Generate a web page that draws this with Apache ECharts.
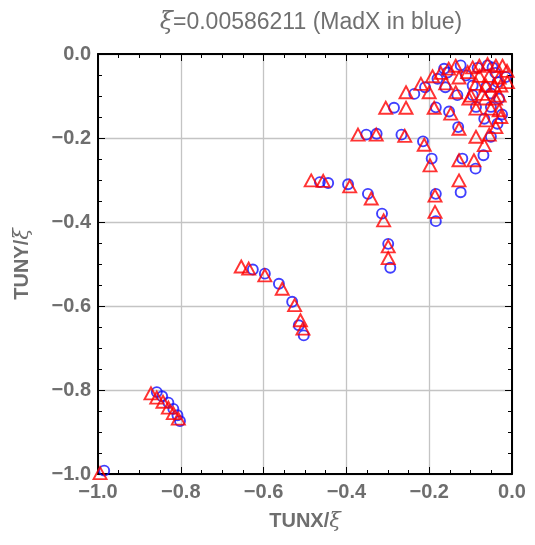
<!DOCTYPE html>
<html>
<head>
<meta charset="utf-8">
<script src="https://cdn.jsdelivr.net/npm/echarts@6/dist/echarts.min.js"></script>
<style>
html, body { margin: 0; padding: 0; background: #fff; }
#chart { width: 535px; height: 545px; }
</style>
</head>
<body>
<div id="chart"></div>
<script>
// tick values, same on both axes
var axisTicks = [-1.0, -0.8, -0.6, -0.4, -0.2, 0.0];
var minorStep = 0.05;

// MadX (blue circles)
var madxArms = [
	[-0.985, -0.992],
	[-0.858, -0.805], [-0.845, -0.815], [-0.830, -0.830], [-0.818, -0.845], [-0.808, -0.860], [-0.802, -0.874],
	[-0.626, -0.513], [-0.597, -0.523], [-0.563, -0.547], [-0.531, -0.590], [-0.515, -0.646], [-0.503, -0.670],
	[-0.464, -0.305], [-0.444, -0.307], [-0.396, -0.310], [-0.348, -0.333], [-0.314, -0.380], [-0.299, -0.452], [-0.294, -0.509],
	[-0.352, -0.192], [-0.327, -0.190], [-0.267, -0.192], [-0.215, -0.208], [-0.194, -0.249], [-0.184, -0.333], [-0.184, -0.398]
];
var madxCluster = [
	[-0.285, -0.128], [-0.236, -0.095], [-0.210, -0.079], [-0.180, -0.059], [-0.184, -0.127],
	[-0.161, -0.079], [-0.164, -0.035], [-0.156, -0.044], [-0.124, -0.027], [-0.111, -0.051],
	[-0.095, -0.075], [-0.095, -0.098], [-0.083, -0.033], [-0.059, -0.027], [-0.047, -0.032],
	[-0.040, -0.045], [-0.063, -0.079], [-0.051, -0.094], [-0.035, -0.067], [-0.015, -0.055],
	[-0.152, -0.137], [-0.130, -0.174], [-0.087, -0.126], [-0.051, -0.126], [-0.067, -0.154],
	[-0.035, -0.166], [-0.051, -0.197], [-0.132, -0.098], [-0.031, -0.106], [-0.024, -0.144],
	[-0.120, -0.249], [-0.088, -0.273], [-0.069, -0.241], [-0.124, -0.329]
];

// other code (red triangles)
var otherArms = [
	[-0.995, -0.998],
	[-0.872, -0.808], [-0.858, -0.818], [-0.843, -0.828], [-0.830, -0.842], [-0.818, -0.855], [-0.806, -0.868],
	[-0.654, -0.506], [-0.636, -0.511], [-0.597, -0.527], [-0.555, -0.559], [-0.525, -0.598], [-0.511, -0.634], [-0.505, -0.654],
	[-0.485, -0.301], [-0.456, -0.302], [-0.392, -0.315], [-0.340, -0.344], [-0.310, -0.396], [-0.299, -0.458], [-0.299, -0.486],
	[-0.372, -0.192], [-0.328, -0.192], [-0.259, -0.195], [-0.212, -0.216], [-0.198, -0.265], [-0.186, -0.337], [-0.186, -0.376]
];
var otherCluster = [
	[-0.305, -0.128], [-0.256, -0.128], [-0.188, -0.128],
	[-0.256, -0.091], [-0.220, -0.071], [-0.200, -0.091], [-0.192, -0.053], [-0.172, -0.045],
	[-0.160, -0.070], [-0.153, -0.035], [-0.136, -0.028], [-0.128, -0.056], [-0.136, -0.091],
	[-0.107, -0.043], [-0.095, -0.032], [-0.079, -0.028], [-0.059, -0.024], [-0.039, -0.028],
	[-0.023, -0.028], [-0.079, -0.052], [-0.055, -0.052], [-0.031, -0.056], [-0.012, -0.040],
	[-0.087, -0.071], [-0.063, -0.075], [-0.043, -0.075], [-0.027, -0.075], [-0.011, -0.067],
	[-0.099, -0.099], [-0.071, -0.095], [-0.031, -0.099], [-0.104, -0.106], [-0.065, -0.106],
	[-0.040, -0.106], [-0.087, -0.130], [-0.051, -0.130], [-0.031, -0.134], [-0.027, -0.150],
	[-0.148, -0.142], [-0.063, -0.158], [-0.039, -0.174], [-0.128, -0.178], [-0.087, -0.197],
	[-0.055, -0.192], [-0.067, -0.217], [-0.128, -0.253], [-0.092, -0.253], [-0.128, -0.301]
];

var gray = '#6e6e6e';
var labelFont = 'Liberation Sans, Arial, sans-serif';

function fmt(v){
	var s = Math.abs(v).toFixed(1);
	return (v < -1e-9 ? '\u2212' : '') + s;
}

// main axes: frame, major ticks, grid, labels
function makeAxis(pos, isX, main){
	var ax = {
		type: 'value',
		position: pos,
		min: axisTicks[0],
		max: axisTicks[axisTicks.length - 1],
		interval: 0.2,
		axisLine: { show: true, onZero: false, lineStyle: { color: '#000', width: 2 } },
		axisTick: { show: true, inside: true, length: 7, lineStyle: { color: '#000', width: 1 } },
		splitLine: { show: main, lineStyle: { color: '#c4c4c4', width: 1.3 } },
		axisLabel: {
			show: main,
			margin: isX ? 8 : 7,
			formatter: fmt,
			color: gray,
			fontSize: 20,
			fontWeight: 'bold',
			fontFamily: labelFont
		}
	};
	if(main){
		ax.nameLocation = 'middle';
		ax.nameGap = isX ? 37 : 65;
		ax.name = isX ? 'TUNX/{i|ξ}' : 'TUNY/{i|ξ}';
		ax.nameTextStyle = {
			color: gray, fontSize: 20, fontWeight: 'bold',
			fontFamily: labelFont,
			rich: { i: { color: gray, fontSize: 21, fontStyle: 'italic', fontWeight: 'normal', fontFamily: 'DejaVu Serif, serif' } }
		};
	}
	return ax;
}

// extra axes just for the small inward ticks
function makeMinorAxis(pos){
	return {
		type: 'value',
		position: pos,
		min: axisTicks[0],
		max: axisTicks[axisTicks.length - 1],
		interval: minorStep,
		axisLine: { show: false, onZero: false },
		axisTick: { show: true, inside: true, length: 4, lineStyle: { color: '#000', width: 1 } },
		splitLine: { show: false },
		axisLabel: { show: false }
	};
}

var chart = echarts.init(document.getElementById('chart'));
chart.setOption({
	animation: false,
	title: {
		text: '{i|ξ}=0.00586211 (MadX in blue)',
		left: 306,
		textAlign: 'center',
		top: 6,
		textStyle: {
			color: '#707070', fontSize: 23, fontWeight: 'normal',
			fontFamily: labelFont,
			rich: { i: { color: '#707070', fontSize: 24, fontStyle: 'italic', fontFamily: 'DejaVu Serif, serif' } }
		}
	},
	grid: { left: 98, right: 23, top: 54, bottom: 71 },
	xAxis: [makeAxis('bottom', true, true), makeAxis('top', true, false), makeMinorAxis('bottom'), makeMinorAxis('top')],
	yAxis: [makeAxis('left', false, true), makeAxis('right', false, false), makeMinorAxis('left'), makeMinorAxis('right')],
	series: [
		{
			name: 'MadX',
			type: 'scatter',
			symbol: 'circle',
			symbolSize: 10,
			data: madxArms.concat(madxCluster),
			itemStyle: { color: 'rgba(0,0,0,0)', borderColor: '#1010ff', borderWidth: 1.9 },
			emphasis: { disabled: true }
		},
		{
			name: 'other',
			type: 'scatter',
			symbol: 'triangle',
			symbolSize: [13, 12],
			data: otherArms.concat(otherCluster),
			itemStyle: { color: 'rgba(0,0,0,0)', borderColor: '#ff0000', borderWidth: 1.9 },
			emphasis: { disabled: true }
		}
	]
});
</script>
</body>
</html>
